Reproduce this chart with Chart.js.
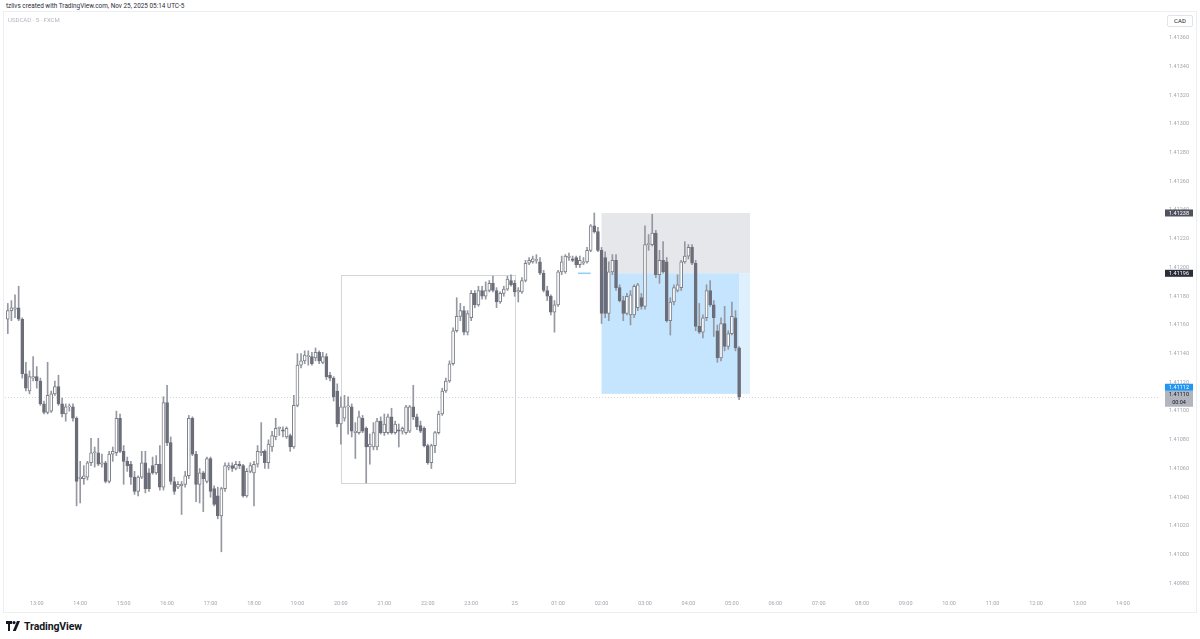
<!DOCTYPE html>
<html>
<head>
<meta charset="utf-8">
<title>USDCAD 5 FXCM</title>
<script src="https://cdn.jsdelivr.net/npm/chart.js"></script>
<style>
  html, body { margin: 0; padding: 0; background: #fff; }
  body { width: 1200px; height: 639px; position: relative; overflow: hidden; font-family: Roboto, "Noto Sans", sans-serif; }
  #header { position: absolute; left: 6px; top: 2px; font-size: 6.4px; color: #2a2e39; white-space: nowrap; }
  #frame { position: absolute; left: 3px; top: 11px; width: 1192px; height: 600px; border: 1px solid #eceef2; }
  #symbol { position: absolute; left: 4px; top: 4px; font-size: 6px; color: #b2b5be; white-space: nowrap; }
  #cad { position: absolute; left: 1163px; top: 3px; width: 24px; height: 10px; border: 1px solid #e0e3eb; border-radius: 2px;
         font-size: 6px; line-height: 10px; text-align: center; color: #131722; background: #fff; }
  #logo { position: absolute; left: 6px; top: 620px; height: 12px; display: flex; align-items: center; }
  #logo span { font-size: 10.5px; font-weight: 700; color: #131722; margin-left: 4px; letter-spacing: -0.1px; }
</style>
</head>
<body>
  <div id="header">tzlivs created with TradingView.com, Nov 25, 2025 05:14 UTC-5</div>
  <div id="frame">
    <canvas id="chart" width="1192" height="600"></canvas>
    <div id="symbol">USDCAD · 5 · FXCM</div>
    <div id="cad">CAD</div>
  </div>
  <div id="logo">
    <svg width="14" height="10" viewBox="0 0 14 10">
      <path d="M0 0h6v3H4v7H2V3H0z" fill="#131722"/>
      <circle cx="8" cy="1.6" r="1.6" fill="#131722"/>
      <path d="M11 0h3l-4.2 10H6.8z" fill="#131722"/>
    </svg>
    <span>TradingView</span>
  </div>

  <script>
    // 5 minute bars, 12:20 -> 05:10
    const openPrices = [
      1.41164, 1.41170, 1.41171, 1.41172, 1.41164, 1.41126, 1.41114, 1.41123, 1.41124, 1.41121,
      1.41105, 1.41099, 1.41100, 1.41112, 1.41117, 1.41105, 1.41098, 1.41103, 1.41103, 1.41095,
      1.41053, 1.41053, 1.41054, 1.41064, 1.41071, 1.41071, 1.41063, 1.41064, 1.41051, 1.41070,
      1.41071, 1.41095, 1.41072, 1.41065, 1.41063, 1.41054, 1.41044, 1.41054, 1.41064, 1.41057,
      1.41062, 1.41057, 1.41063, 1.41047, 1.41106, 1.41078, 1.41051, 1.41047, 1.41048, 1.41049,
      1.41055, 1.41095, 1.41070, 1.41049, 1.41057, 1.41051, 1.41067, 1.41046, 1.41041, 1.41027,
      1.41046, 1.41061, 1.41062, 1.41060, 1.41063, 1.41062, 1.41041, 1.41058, 1.41057, 1.41063,
      1.41071, 1.41072, 1.41064, 1.41075, 1.41082, 1.41088, 1.41087, 1.41082, 1.41083, 1.41075,
      1.41104, 1.41132, 1.41135, 1.41138, 1.41138, 1.41137, 1.41141, 1.41134, 1.41138, 1.41125,
      1.41123, 1.41114, 1.41091, 1.41095, 1.41103, 1.41103, 1.41085, 1.41085, 1.41095, 1.41088,
      1.41075, 1.41075, 1.41075, 1.41093, 1.41085, 1.41085, 1.41096, 1.41085, 1.41087, 1.41086,
      1.41085, 1.41086, 1.41103, 1.41096, 1.41090, 1.41088, 1.41076, 1.41064, 1.41076, 1.41085,
      1.41098, 1.41114, 1.41121, 1.41133, 1.41156, 1.41166, 1.41170, 1.41155, 1.41165, 1.41182,
      1.41174, 1.41184, 1.41180, 1.41184, 1.41189, 1.41184, 1.41176, 1.41182, 1.41185, 1.41191,
      1.41189, 1.41183, 1.41183, 1.41191, 1.41203, 1.41204, 1.41205, 1.41204, 1.41196, 1.41184,
      1.41180, 1.41169, 1.41174, 1.41197, 1.41197, 1.41207, 1.41206, 1.41207, 1.41202, 1.41203,
      1.41204, 1.41212, 1.41229, 1.41225, 1.41212, 1.41207, 1.41168, 1.41197, 1.41205, 1.41186,
      1.41177, 1.41168, 1.41167, 1.41167, 1.41172, 1.41179, 1.41173, 1.41216, 1.41216, 1.41224,
      1.41195, 1.41205, 1.41204, 1.41163, 1.41176, 1.41184, 1.41186, 1.41204, 1.41208, 1.41214,
      1.41203, 1.41159, 1.41155, 1.41165, 1.41184, 1.41174, 1.41156, 1.41137, 1.41161, 1.41145,
      1.41154, 1.41165, 1.41144
    ];
    const highPrices = [
      1.41175, 1.41177, 1.41181, 1.41187, 1.41165, 1.41134, 1.41128, 1.41138, 1.41131, 1.41123,
      1.41107, 1.41134, 1.41114, 1.41121, 1.41125, 1.41109, 1.41105, 1.41105, 1.41105, 1.41096,
      1.41065, 1.41062, 1.41065, 1.41081, 1.41075, 1.41081, 1.41070, 1.41065, 1.41072, 1.41075,
      1.41100, 1.41098, 1.41076, 1.41068, 1.41065, 1.41058, 1.41055, 1.41072, 1.41072, 1.41060,
      1.41068, 1.41069, 1.41076, 1.41110, 1.41118, 1.41082, 1.41054, 1.41051, 1.41051, 1.41058,
      1.41097, 1.41096, 1.41072, 1.41060, 1.41058, 1.41068, 1.41068, 1.41048, 1.41047, 1.41047,
      1.41064, 1.41064, 1.41064, 1.41065, 1.41065, 1.41063, 1.41060, 1.41064, 1.41065, 1.41076,
      1.41092, 1.41073, 1.41080, 1.41086, 1.41095, 1.41089, 1.41089, 1.41089, 1.41084, 1.41111,
      1.41140, 1.41140, 1.41142, 1.41142, 1.41141, 1.41144, 1.41142, 1.41141, 1.41140, 1.41127,
      1.41124, 1.41119, 1.41110, 1.41111, 1.41110, 1.41105, 1.41092, 1.41100, 1.41097, 1.41089,
      1.41084, 1.41092, 1.41095, 1.41096, 1.41098, 1.41098, 1.41102, 1.41093, 1.41091, 1.41089,
      1.41104, 1.41104, 1.41118, 1.41098, 1.41093, 1.41089, 1.41077, 1.41077, 1.41086, 1.41100,
      1.41116, 1.41123, 1.41135, 1.41158, 1.41179, 1.41175, 1.41173, 1.41170, 1.41184, 1.41184,
      1.41187, 1.41187, 1.41190, 1.41191, 1.41194, 1.41186, 1.41183, 1.41187, 1.41194, 1.41195,
      1.41191, 1.41186, 1.41193, 1.41205, 1.41207, 1.41208, 1.41209, 1.41207, 1.41198, 1.41187,
      1.41181, 1.41177, 1.41198, 1.41208, 1.41209, 1.41210, 1.41208, 1.41208, 1.41208, 1.41207,
      1.41214, 1.41230, 1.41238, 1.41228, 1.41214, 1.41211, 1.41204, 1.41209, 1.41209, 1.41188,
      1.41180, 1.41182, 1.41184, 1.41188, 1.41189, 1.41182, 1.41229, 1.41223, 1.41237, 1.41226,
      1.41212, 1.41218, 1.41207, 1.41179, 1.41188, 1.41195, 1.41205, 1.41218, 1.41216, 1.41216,
      1.41205, 1.41175, 1.41167, 1.41188, 1.41191, 1.41177, 1.41160, 1.41165, 1.41173, 1.41156,
      1.41176, 1.41170, 1.41145
    ];
    const lowPrices = [
      1.41154, 1.41163, 1.41165, 1.41163, 1.41123, 1.41114, 1.41112, 1.41121, 1.41116, 1.41104,
      1.41098, 1.41098, 1.41099, 1.41111, 1.41104, 1.41096, 1.41093, 1.41100, 1.41093, 1.41034,
      1.41036, 1.41049, 1.41052, 1.41062, 1.41061, 1.41062, 1.41061, 1.41050, 1.41050, 1.41065,
      1.41069, 1.41071, 1.41049, 1.41058, 1.41049, 1.41042, 1.41041, 1.41053, 1.41043, 1.41044,
      1.41056, 1.41056, 1.41045, 1.41045, 1.41076, 1.41049, 1.41042, 1.41046, 1.41028, 1.41047,
      1.41053, 1.41069, 1.41037, 1.41036, 1.41030, 1.41050, 1.41040, 1.41034, 1.41025, 1.41002,
      1.41044, 1.41059, 1.41058, 1.41059, 1.41060, 1.41040, 1.41040, 1.41057, 1.41034, 1.41061,
      1.41069, 1.41060, 1.41060, 1.41072, 1.41080, 1.41083, 1.41082, 1.41081, 1.41072, 1.41074,
      1.41103, 1.41130, 1.41133, 1.41132, 1.41132, 1.41135, 1.41133, 1.41133, 1.41122, 1.41121,
      1.41107, 1.41089, 1.41077, 1.41093, 1.41084, 1.41082, 1.41067, 1.41084, 1.41085, 1.41050,
      1.41063, 1.41073, 1.41073, 1.41084, 1.41083, 1.41084, 1.41084, 1.41084, 1.41075, 1.41084,
      1.41084, 1.41085, 1.41094, 1.41087, 1.41085, 1.41075, 1.41063, 1.41060, 1.41071, 1.41084,
      1.41097, 1.41113, 1.41120, 1.41132, 1.41155, 1.41163, 1.41153, 1.41153, 1.41163, 1.41172,
      1.41173, 1.41178, 1.41178, 1.41183, 1.41183, 1.41172, 1.41175, 1.41180, 1.41184, 1.41187,
      1.41180, 1.41176, 1.41182, 1.41190, 1.41202, 1.41203, 1.41203, 1.41195, 1.41183, 1.41177,
      1.41167, 1.41155, 1.41173, 1.41195, 1.41196, 1.41205, 1.41204, 1.41200, 1.41200, 1.41202,
      1.41203, 1.41211, 1.41224, 1.41211, 1.41161, 1.41165, 1.41163, 1.41195, 1.41184, 1.41176,
      1.41163, 1.41167, 1.41160, 1.41165, 1.41170, 1.41171, 1.41171, 1.41212, 1.41215, 1.41193,
      1.41189, 1.41196, 1.41162, 1.41153, 1.41174, 1.41183, 1.41184, 1.41203, 1.41206, 1.41202,
      1.41156, 1.41154, 1.41151, 1.41163, 1.41173, 1.41152, 1.41134, 1.41135, 1.41142, 1.41143,
      1.41153, 1.41142, 1.41108
    ];
    const closePrices = [
      1.41170, 1.41172, 1.41172, 1.41164, 1.41126, 1.41116, 1.41124, 1.41124, 1.41121, 1.41105,
      1.41099, 1.41111, 1.41112, 1.41117, 1.41105, 1.41098, 1.41103, 1.41103, 1.41095, 1.41051,
      1.41054, 1.41055, 1.41064, 1.41071, 1.41071, 1.41063, 1.41064, 1.41051, 1.41070, 1.41072,
      1.41095, 1.41072, 1.41065, 1.41062, 1.41054, 1.41044, 1.41054, 1.41064, 1.41046, 1.41046,
      1.41057, 1.41063, 1.41047, 1.41106, 1.41078, 1.41051, 1.41044, 1.41049, 1.41049, 1.41055,
      1.41095, 1.41070, 1.41049, 1.41057, 1.41053, 1.41067, 1.41044, 1.41035, 1.41027, 1.41046,
      1.41062, 1.41062, 1.41060, 1.41063, 1.41062, 1.41041, 1.41058, 1.41062, 1.41063, 1.41072,
      1.41072, 1.41064, 1.41077, 1.41083, 1.41088, 1.41088, 1.41086, 1.41088, 1.41075, 1.41104,
      1.41132, 1.41135, 1.41139, 1.41138, 1.41133, 1.41141, 1.41135, 1.41138, 1.41124, 1.41123,
      1.41110, 1.41091, 1.41103, 1.41103, 1.41103, 1.41086, 1.41086, 1.41096, 1.41086, 1.41075,
      1.41077, 1.41085, 1.41093, 1.41085, 1.41091, 1.41096, 1.41085, 1.41091, 1.41086, 1.41088,
      1.41103, 1.41103, 1.41096, 1.41089, 1.41086, 1.41076, 1.41064, 1.41076, 1.41085, 1.41098,
      1.41114, 1.41121, 1.41133, 1.41156, 1.41166, 1.41170, 1.41155, 1.41168, 1.41182, 1.41174,
      1.41184, 1.41180, 1.41184, 1.41189, 1.41184, 1.41176, 1.41182, 1.41185, 1.41192, 1.41188,
      1.41183, 1.41184, 1.41191, 1.41203, 1.41205, 1.41206, 1.41205, 1.41196, 1.41184, 1.41180,
      1.41169, 1.41174, 1.41197, 1.41204, 1.41208, 1.41208, 1.41205, 1.41202, 1.41205, 1.41204,
      1.41212, 1.41229, 1.41225, 1.41212, 1.41168, 1.41168, 1.41197, 1.41205, 1.41186, 1.41177,
      1.41168, 1.41180, 1.41181, 1.41187, 1.41188, 1.41173, 1.41216, 1.41216, 1.41224, 1.41195,
      1.41205, 1.41197, 1.41163, 1.41176, 1.41186, 1.41188, 1.41204, 1.41208, 1.41214, 1.41203,
      1.41159, 1.41155, 1.41165, 1.41184, 1.41174, 1.41165, 1.41137, 1.41161, 1.41145, 1.41154,
      1.41166, 1.41144, 1.41110
    ];

    // time axis: bar index of each hour label
    const hourTickBars = [8, 20, 32, 44, 56, 68, 80, 92, 104, 116, 128, 140, 152, 164, 176, 188,
                          200, 212, 224, 236, 248, 260, 272, 284, 296, 308];
    const hourLabels = ["13:00", "14:00", "15:00", "16:00", "17:00", "18:00", "19:00", "20:00", "21:00",
                        "22:00", "23:00", "25", "01:00", "02:00", "03:00", "04:00", "05:00", "06:00",
                        "07:00", "08:00", "09:00", "10:00", "11:00", "12:00", "13:00", "14:00"];
    const priceTicks = [1.40980, 1.41000, 1.41020, 1.41040, 1.41060, 1.41080, 1.41100, 1.41120, 1.41140,
                        1.41160, 1.41180, 1.41200, 1.41220, 1.41240, 1.41260, 1.41280, 1.41300, 1.41320,
                        1.41340, 1.41360];

    // drawings on the chart
    const stopPrice = 1.41238;
    const entryPrice = 1.41196;
    const targetPrice = 1.41112;
    const positionStartBar = 164;
    const positionEndBar = 205;
    const rangeBoxBars = [92, 140];
    const rangeBoxPrices = [1.41050, 1.41195];
    const entryMarkBars = [157.5, 161];
    const countdown = "00:04";

    const upColor = "#ffffff";
    const downColor = "#6b6e79";
    const edgeColor = "#7d808a";
    const wickColor = "#9598a1";

    const barIndex = closePrices.map((_, i) => i);
    const lastBar = barIndex.length - 1;
    const lastClose = closePrices[lastBar];

    const bodyData = barIndex.map(i => ({ x: i, y: [openPrices[i], closePrices[i]] }));
    const wickData = barIndex.map(i => ({ x: i, y: [lowPrices[i], highPrices[i]] }));
    const bodyFill = barIndex.map(i => closePrices[i] >= openPrices[i] ? upColor : downColor);
    const bodyEdge = barIndex.map(i => closePrices[i] >= openPrices[i] ? edgeColor : downColor);

    function priceTag(ctx, left, width, top, height, bg, fg, lines) {
      ctx.fillStyle = bg;
      ctx.fillRect(left, top, width, height);
      ctx.fillStyle = fg;
      ctx.font = "5.5px Roboto";
      ctx.textAlign = "center";
      ctx.textBaseline = "middle";
      const lineH = height / lines.length;
      lines.forEach((t, k) => ctx.fillText(t, left + width / 2, top + lineH * k + lineH / 2 + 0.3));
    }

    const drawings = {
      id: "drawings",
      beforeDatasetsDraw(chart) {
        const { ctx, chartArea, scales: { x, y } } = chart;
        ctx.save();
        ctx.beginPath();
        ctx.rect(chartArea.left, chartArea.top, chartArea.width, chartArea.height);
        ctx.clip();

        // position tool
        const pl = x.getPixelForValue(positionStartBar);
        const pr = x.getPixelForValue(positionEndBar);
        const pNow = x.getPixelForValue(lastBar);
        const yStop = y.getPixelForValue(stopPrice);
        const yEntry = y.getPixelForValue(entryPrice);
        const yTarget = y.getPixelForValue(targetPrice);
        ctx.fillStyle = "#e6e7ea";
        ctx.fillRect(pl, yStop, pr - pl, yEntry - yStop);
        ctx.fillStyle = "#c4e5fd";
        ctx.fillRect(pl, yEntry, pNow - pl, yTarget - yEntry);
        ctx.fillStyle = "#def0fd";
        ctx.fillRect(pNow, yEntry, pr - pNow, yTarget - yEntry);

        // range box
        const bl = x.getPixelForValue(rangeBoxBars[0]);
        const br = x.getPixelForValue(rangeBoxBars[1]);
        const bt = y.getPixelForValue(rangeBoxPrices[1]);
        const bb = y.getPixelForValue(rangeBoxPrices[0]);
        ctx.strokeStyle = "#d3d5da";
        ctx.lineWidth = 1;
        ctx.strokeRect(Math.round(bl) + 0.5, Math.round(bt) + 0.5, Math.round(br - bl), Math.round(bb - bt));

        // small entry mark
        ctx.strokeStyle = "#90cdf8";
        ctx.lineWidth = 1.5;
        ctx.beginPath();
        ctx.moveTo(x.getPixelForValue(entryMarkBars[0]), yEntry);
        ctx.lineTo(x.getPixelForValue(entryMarkBars[1]), yEntry);
        ctx.stroke();

        // last price line
        const yLast = Math.round(y.getPixelForValue(lastClose)) + 0.5;
        ctx.strokeStyle = "#d3d6dc";
        ctx.lineWidth = 1;
        ctx.setLineDash([1, 2]);
        ctx.beginPath();
        ctx.moveTo(chartArea.left, yLast);
        ctx.lineTo(chartArea.right, yLast);
        ctx.stroke();
        ctx.restore();
      },
      afterDraw(chart) {
        const { ctx, chartArea, scales: { y } } = chart;
        const left = chartArea.right + 7;
        const w = 28;
        ctx.save();
        const yStop = y.getPixelForValue(stopPrice);
        const yEntry = y.getPixelForValue(entryPrice);
        const yLast = y.getPixelForValue(lastClose);
        priceTag(ctx, left, w, yStop - 3.5, 7, "#50535e", "#ffffff", [stopPrice.toFixed(5)]);
        priceTag(ctx, left, w, yEntry - 3.5, 7, "#2a2e39", "#ffffff", [entryPrice.toFixed(5)]);
        const greyTop = yLast - 6;
        priceTag(ctx, left, w, greyTop, 16, "#b2b5be", "#131722", [lastClose.toFixed(5), countdown]);
        priceTag(ctx, left, w, greyTop - 7, 7, "#2196f3", "#ffffff", [targetPrice.toFixed(5)]);
        ctx.restore();
      }
    };

    Chart.defaults.font.family = "Roboto";

    new Chart(document.getElementById("chart"), {
      type: "bar",
      data: {
        datasets: [
          {
            label: "body",
            data: bodyData,
            backgroundColor: bodyFill,
            borderColor: bodyEdge,
            borderWidth: 1,
            borderSkipped: false,
            barThickness: 3,
            minBarLength: 1,
            grouped: false
          },
          {
            label: "wick",
            data: wickData,
            backgroundColor: wickColor,
            borderWidth: 0,
            barThickness: 1,
            grouped: false
          }
        ]
      },
      options: {
        responsive: false,
        animation: false,
        devicePixelRatio: 1,
        layout: { padding: { left: 1, right: 0, top: 0, bottom: 0 } },
        plugins: { legend: { display: false }, tooltip: { enabled: false } },
        scales: {
          x: {
            type: "linear",
            min: -0.77,
            max: 317.7,
            offset: false,
            grid: { display: false, drawTicks: false },
            border: { display: false },
            afterBuildTicks(scale) { scale.ticks = hourTickBars.map(v => ({ value: v })); },
            afterFit(scale) { scale.height = 20; scale.paddingLeft = 0; scale.paddingRight = 0; },
            ticks: {
              autoSkip: false,
              maxRotation: 0,
              padding: 8,
              color: "#a3a6af",
              font: { size: 5.5 },
              callback: (v, i) => hourLabels[i]
            }
          },
          y: {
            position: "right",
            min: 1.40974,
            max: 1.41378,
            grid: { display: false, drawTicks: false },
            border: { display: false },
            afterBuildTicks(scale) { scale.ticks = priceTicks.map(v => ({ value: v })); },
            afterFit(scale) { scale.width = 38; scale.paddingTop = 0; scale.paddingBottom = 0; },
            ticks: {
              autoSkip: false,
              padding: 11,
              color: "#a3a6af",
              font: { size: 5.5 },
              callback: v => v.toFixed(5)
            }
          }
        }
      },
      plugins: [drawings]
    });
  </script>
</body>
</html>
